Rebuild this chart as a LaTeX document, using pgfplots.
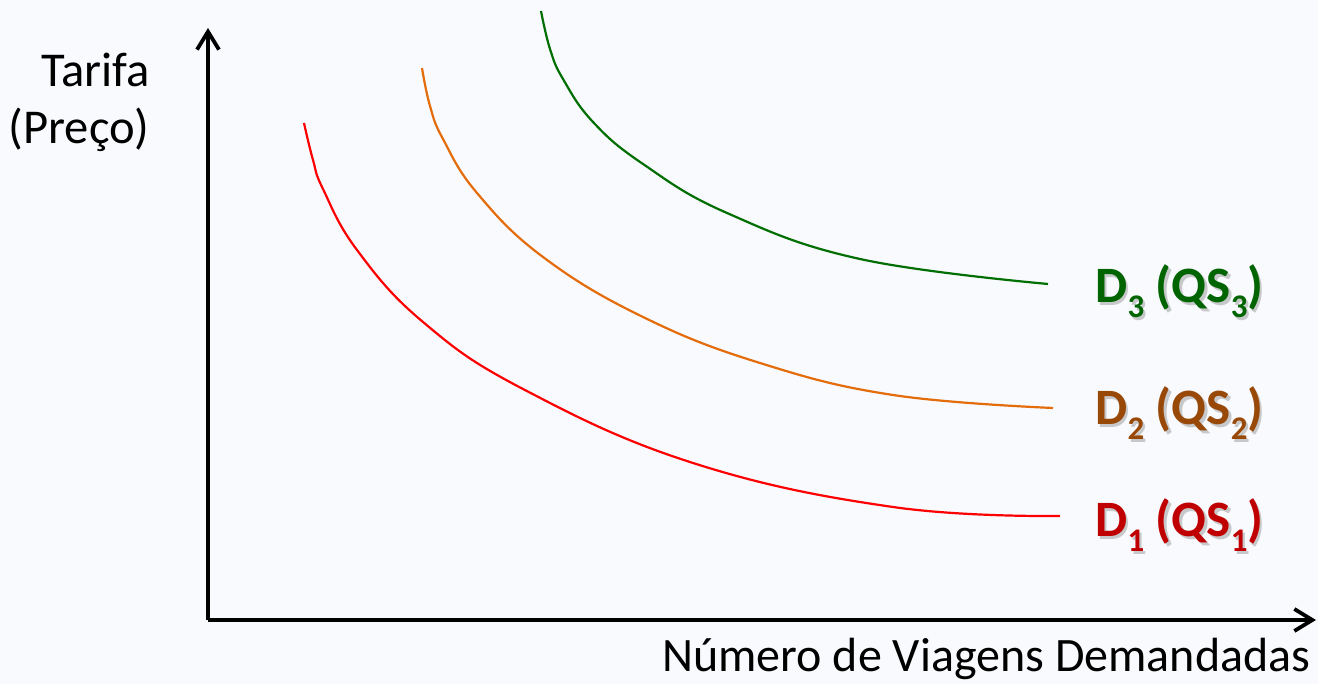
\documentclass[border=0pt]{standalone}
\usepackage{fontspec}
\setmainfont{Carlito}
\usepackage{pgfplots}
\pgfplotsset{compat=1.18}
\usetikzlibrary{arrows.meta,backgrounds}
\definecolor{bg}{RGB}{248,250,253}
\definecolor{cRed}{RGB}{255,0,0}
\definecolor{cOrange}{RGB}{228,108,10}
\definecolor{cGreen}{RGB}{0,110,0}
\definecolor{tRed}{RGB}{192,0,0}
\definecolor{tBrown}{RGB}{152,72,7}
\definecolor{tGreen}{RGB}{0,100,0}
\newcommand{\sub}[1]{\raisebox{-7.5pt}{\fontsize{16.5}{16.5}\selectfont #1}}
\newcommand{\Dlab}[1]{\fontsize{25.5}{29}\selectfont\bfseries D\sub{#1} (QS\sub{#1})}
\tikzset{shadowlab/.style={anchor=base west, inner sep=0pt, text=black!45, opacity=0.45, xshift=1.2pt, yshift=-1.2pt},
         lab/.style={anchor=base west, inner sep=0pt},
         ttl/.style={inner sep=0pt, font=\fontsize{24.3}{29}\selectfont}}
\begin{document}
\begin{tikzpicture}
\begin{axis}[
  x=0.5pt, y=0.5pt,
  xmin=208, xmax=1316, ymin=0, ymax=592,
  enlargelimits=false,
  axis lines=left,
  axis line style={line width=1.9pt, -{Straight Barb[length=9pt,width=11pt]}},
  xtick=\empty, ytick=\empty,
  clip=false,
]
\coordinate (bl) at (axis cs:0,-64);
\coordinate (tr) at (axis cs:1318,620);
% D1 red
\addplot[cRed, line width=1.1pt, smooth, tension=0.7] coordinates {
(304,497) (313,460) (323,431) (357,370) (423,298) (523,231) (693,157) (893,113) (1060,104)};
% D2 orange
\addplot[cOrange, line width=1.1pt, smooth, tension=0.7] coordinates {
(422,552) (430,514) (443,481) (477,427) (543,363) (643,303) (760,257) (893,225) (1053,212)};
% D3 green
\addplot[cGreen, line width=1.1pt, smooth, tension=0.7] coordinates {
(541,609) (550,571) (563,541) (593,498) (643,456) (727,407) (860,361) (1048,336)};
% axis titles
\node[ttl, anchor=base east] at (axis cs:150,533) {Tarifa};
\node[ttl, anchor=base east] at (axis cs:150,476) {(Preço)};
\node[inner sep=0pt, font=\fontsize{24}{29}\selectfont, anchor=base west] at (axis cs:662,-52) {Número de Viagens Demandadas};
% curve labels with shadow
\node[shadowlab] at (axis cs:1095,317) {\Dlab{3}};
\node[lab, text=tGreen] at (axis cs:1095,317) {\Dlab{3}};
\node[shadowlab] at (axis cs:1095,195) {\Dlab{2}};
\node[lab, text=tBrown] at (axis cs:1095,195) {\Dlab{2}};
\node[shadowlab] at (axis cs:1095,83) {\Dlab{1}};
\node[lab, text=tRed] at (axis cs:1095,83) {\Dlab{1}};
\end{axis}
\begin{scope}[on background layer]
\fill[bg] (bl) rectangle (tr);
\end{scope}
\pgfresetboundingbox
\useasboundingbox (bl) rectangle (tr);
\end{tikzpicture}
\end{document}
